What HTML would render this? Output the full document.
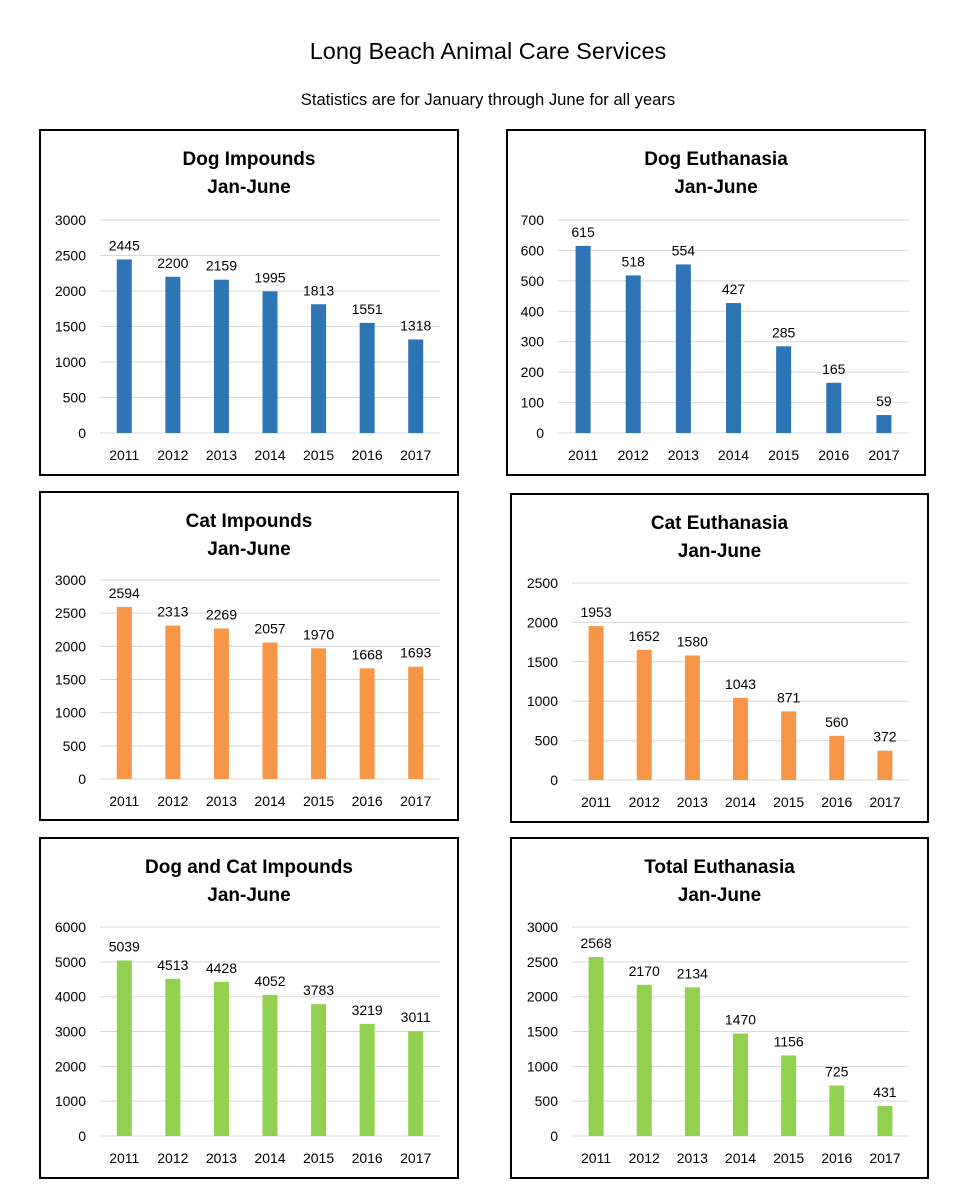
<!DOCTYPE html>
<html><head><meta charset="utf-8"><style>
html,body{margin:0;padding:0;background:#fff;}
svg{display:block;}
</style></head><body>
<svg id="page" width="961" height="1200" viewBox="0 0 961 1200" xmlns="http://www.w3.org/2000/svg">
<text x="488" y="59" text-anchor="middle" font-family="Liberation Sans, sans-serif" font-size="23.5" fill="#000">Long Beach Animal Care Services</text>
<text x="488" y="105" text-anchor="middle" font-family="Liberation Sans, sans-serif" font-size="16.6" fill="#000">Statistics are for January through June for all years</text>
<g id="charts"></g>
</svg>
<script>
const categories = ["2011","2012","2013","2014","2015","2016","2017"];
const dogImpounds = [2445,2200,2159,1995,1813,1551,1318];
const dogEuthanasia = [615,518,554,427,285,165,59];
const catImpounds = [2594,2313,2269,2057,1970,1668,1693];
const catEuthanasia = [1953,1652,1580,1043,871,560,372];
const totalImpounds = [5039,4513,4428,4052,3783,3219,3011];
const totalEuthanasia = [2568,2170,2134,1470,1156,725,431];
const dogImpoundTicks = [0,500,1000,1500,2000,2500,3000];
const dogEuthTicks = [0,100,200,300,400,500,600,700];
const catImpoundTicks = [0,500,1000,1500,2000,2500,3000];
const catEuthTicks = [0,500,1000,1500,2000,2500];
const totalImpoundTicks = [0,1000,2000,3000,4000,5000,6000];
const totalEuthTicks = [0,500,1000,1500,2000,2500,3000];

const NS = "http://www.w3.org/2000/svg";
const root = document.getElementById("charts");
function mk(tag, attrs, parent){
  const e = document.createElementNS(NS, tag);
  for (const k in attrs) e.setAttribute(k, attrs[k]);
  parent.appendChild(e);
  return e;
}
const FONT = "Liberation Sans, DejaVu Sans, sans-serif";

const panels = [
 {name:"dog-impounds", title:"Dog Impounds", vals:dogImpounds, ticks:dogImpoundTicks, color:"#2e75b6", box:[40,130,418,345], pl:100, pr:440, pt:220, pb:433, ty:158},
 {name:"dog-euthanasia", title:"Dog Euthanasia", vals:dogEuthanasia, ticks:dogEuthTicks, color:"#2e75b6", box:[507,130,418,345], pl:558, pr:909, pt:220, pb:433, ty:158},
 {name:"cat-impounds", title:"Cat Impounds", vals:catImpounds, ticks:catImpoundTicks, color:"#f79646", box:[40,492,418,328], pl:100, pr:440, pt:580, pb:779, ty:520},
 {name:"cat-euthanasia", title:"Cat Euthanasia", vals:catEuthanasia, ticks:catEuthTicks, color:"#f79646", box:[511,494,417,328], pl:572, pr:909, pt:583, pb:780, ty:522},
 {name:"dog-and-cat-impounds", title:"Dog and Cat Impounds", vals:totalImpounds, ticks:totalImpoundTicks, color:"#92d050", box:[40,838,418,340], pl:100, pr:440, pt:927, pb:1136, ty:866},
 {name:"total-euthanasia", title:"Total Euthanasia", vals:totalEuthanasia, ticks:totalEuthTicks, color:"#92d050", box:[511,838,417,340], pl:572, pr:909, pt:927, pb:1136, ty:866}
];

panels.forEach(p => {
  const g = mk("g", {}, root);
  
  
  const frame = mk("rect", {x:p.box[0], y:p.box[1], width:p.box[2], height:p.box[3], fill:"#fff", stroke:"#000", "stroke-width":2}, g);
  
  
  const cx = p.box[0] + p.box[2]/2;
  const t1 = mk("text", {x:cx, y:p.ty+7, "text-anchor":"middle", "font-family":FONT, "font-size":19, "font-weight":"bold"}, g);
  t1.textContent = p.title;
  
  
  const t2 = mk("text", {x:cx, y:p.ty+35, "text-anchor":"middle", "font-family":FONT, "font-size":19, "font-weight":"bold"}, g);
  t2.textContent = "Jan-June";
  
  
  const maxT = p.ticks[p.ticks.length-1];
  const y = v => p.pb - (v / maxT) * (p.pb - p.pt);
  const band = (p.pr - p.pl) / categories.length;
  const x = i => p.pl + band * (i + 0.5);
  p.ticks.forEach(t => {
    const ln = mk("line", {x1:p.pl, x2:p.pr, y1:y(t), y2:y(t), stroke:"#d9d9d9", "stroke-width":1}, g);
    
    
    const lb = mk("text", {x:p.pl-14, y:y(t)+5, "text-anchor":"end", "font-family":FONT, "font-size":14}, g);
    lb.textContent = t;
    
    
  });
  categories.forEach((c, i) => {
    const v = p.vals[i];
    const bw = 15;
    const r = mk("rect", {x:x(i)-bw/2, y:y(v), width:bw, height:p.pb-y(v), fill:p.color}, g);
    
    
    const vl = mk("text", {x:x(i), y:y(v)-9, "text-anchor":"middle", "font-family":FONT, "font-size":14}, g);
    vl.textContent = v;
    
    
    const xl = mk("text", {x:x(i), y:p.pb+27, "text-anchor":"middle", "font-family":FONT, "font-size":14}, g);
    xl.textContent = c;
    
    
  });
});
</script>
</body></html>
